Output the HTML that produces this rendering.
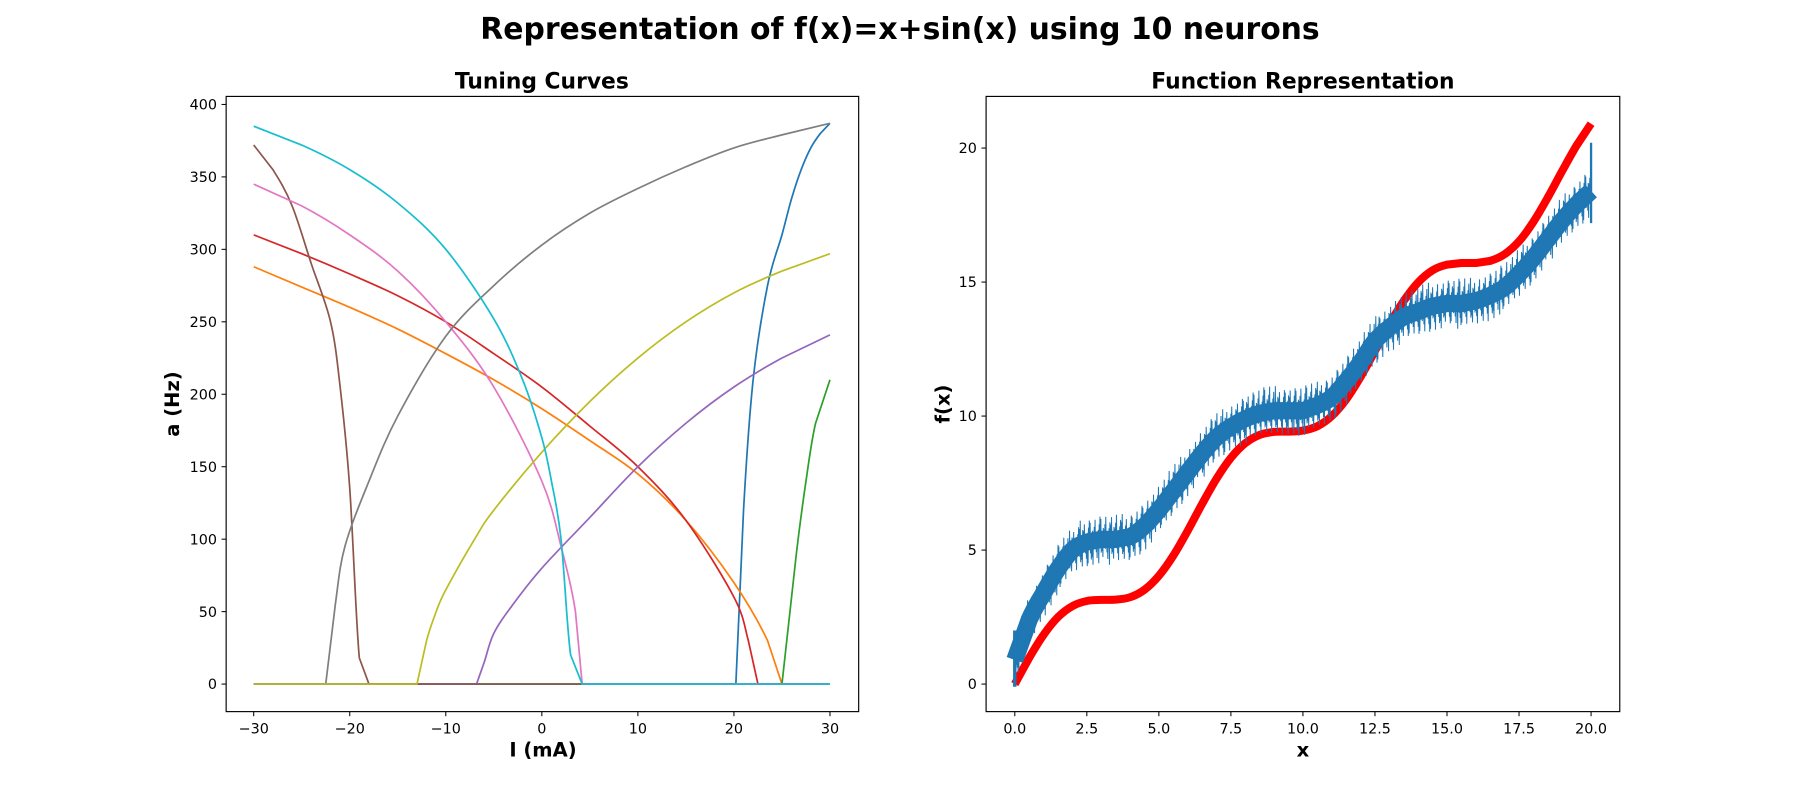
<!DOCTYPE html>
<html><head><meta charset="utf-8">
<style>
html,body{margin:0;padding:0;background:#fff;}
svg{display:block;font-family:"DejaVu Sans","Liberation Sans",sans-serif;}
</style></head>
<body>
<svg id="fig" width="1800" height="800" viewBox="0 0 1568 697" preserveAspectRatio="none" xmlns="http://www.w3.org/2000/svg">
<rect width="1568" height="697" fill="#fff"/>
<text x="784" y="34" text-anchor="middle" font-size="26" font-weight="bold">Representation of f(x)=x+sin(x) using 10 neurons</text>
<text x="472" y="77" text-anchor="middle" font-size="19" font-weight="bold">Tuning Curves</text>
<text x="1135" y="77" text-anchor="middle" font-size="19" font-weight="bold">Function Representation</text>
<text x="473" y="659" text-anchor="middle" font-size="17" font-weight="bold">I (mA)</text>
<text x="1135" y="659" text-anchor="middle" font-size="17" font-weight="bold">x</text>
<text transform="translate(156,352) rotate(-90)" text-anchor="middle" font-size="17" font-weight="bold">a (Hz)</text>
<text transform="translate(827,352) rotate(-90)" text-anchor="middle" font-size="17" font-weight="bold">f(x)</text>
<g id="left"></g>
<g id="right"></g>
</svg>
<script>
// ---- Tuning curve data ----
const curveNames = ["blue","orange","green","red","purple","brown","pink","gray","olive","cyan"];
const curveColors = ["#1f77b4","#ff7f0e","#2ca02c","#d62728","#9467bd","#8c564b","#e377c2","#7f7f7f","#bcbd22","#17becf"];
const blueI = [-30,20.2,21,22,23.5,25,26,27,28,29,30];
const blueA = [0,0,120,210,275,310,335,355,370,380,387];
const orangeI = [-30,-25,-20,-15,-10,-5,0,5,10,15,20,23.5,25,30];
const orangeA = [288,274,260,245,228,210,190,168,145,113,70,30,0,0];
const greenI = [-30,25,26.5,27.5,28.5,30];
const greenA = [0,0,90,140,180,210];
const redI = [-30,-25,-20,-15,-10,-5,0,5,10,15,20,21.5,22.5,30];
const redA = [310,297,283,268,250,228,205,178,150,113,60,30,0,0];
const purpleI = [-30,-6.8,-6,-5,-3,0,5,10,15,20,25,30];
const purpleA = [0,0,15,35,55,80,115,150,180,205,225,241];
const brownI = [-30,-28,-26,-24,-22,-21,-20,-19,-18,30];
const brownA = [372,355,330,290,250,205,135,18,0,0];
const pinkI = [-30,-25,-20,-15,-10,-5,0,2,3.5,4.2,30];
const pinkA = [345,330,310,285,250,205,140,95,50,0,0];
const grayI = [-30,-22.5,-21.5,-20.5,-18,-15,-10,-5,0,5,10,15,20,25,30];
const grayA = [0,0,55,95,140,185,240,275,303,325,342,357,370,379,387];
const oliveI = [-30,-13,-12,-11,-10,-7,-5,0,5,10,15,20,25,30];
const oliveA = [0,0,30,50,65,100,120,160,195,225,250,270,285,297];
const cyanI = [-30,-25,-20,-15,-10,-5,-2,0,1,2,3,4.2,30];
const cyanA = [385,372,355,332,300,252,210,170,140,100,20,0,0];
const leftXTicks = [-30,-20,-10,0,10,20,30];
const leftYTicks = [0,50,100,150,200,250,300,350,400];

// ---- Function representation data ----
const fxX = [0,0.5,1,1.5,2,2.5,3,3.5,4,4.5,5,5.5,6,6.5,7,7.5,8,8.5,9,9.5,10,10.5,11,11.5,12,12.5,13,13.5,14,14.5,15,15.5,16,16.5,17,17.5,18,18.5,19,19.5,20];
const fxTrue = [0,0.98,1.84,2.50,2.91,3.10,3.14,3.15,3.24,3.52,4.04,4.79,5.72,6.72,7.66,8.44,8.99,9.30,9.41,9.42,9.46,9.62,10.00,10.62,11.46,12.43,13.42,14.30,14.99,15.44,15.65,15.71,15.71,15.79,16.04,16.52,17.25,18.16,19.15,20.10,20.91];
const fxDecoded = [0.9,2.4,3.4,4.3,5.0,5.3,5.4,5.4,5.5,5.9,6.5,7.2,7.9,8.6,9.2,9.6,9.9,10.1,10.2,10.2,10.2,10.4,10.7,11.3,12.0,12.8,13.3,13.7,13.9,14.1,14.2,14.2,14.3,14.5,14.8,15.3,15.9,16.6,17.3,17.9,18.4];
const rightXTicks = [0,2.5,5,7.5,10,12.5,15,17.5,20];
const rightYTicks = [0,5,10,15,20];

const NS = "http://www.w3.org/2000/svg";
function mk(tag, attrs, parent){const e=document.createElementNS(NS,tag);for(const k in attrs)e.setAttribute(k,attrs[k]);parent.appendChild(e);return e;}

const L = {x0:197,x1:748,y0:84,y1:620};
const R = {x0:859,x1:1411,y0:84,y1:620};
const lx = v => 221 + (v+30)*(723-221)/60;
const ly = v => 596 - v*(596-91)/400;
const rx = v => 884 + v*(1386-884)/20;
const ry = v => 596 - v*(596-129)/20;

function smoothPath(P){
  let d="M"+P[0][0].toFixed(2)+","+P[0][1].toFixed(2);
  for(let i=0;i<P.length-1;i++){
    const p0=P[Math.max(0,i-1)],p1=P[i],p2=P[i+1],p3=P[Math.min(P.length-1,i+2)];
    const flat = Math.abs(p1[1]-p2[1])<0.01 || Math.abs(p0[1]-p1[1])<0.01 || Math.abs(p2[1]-p3[1])<0.01;
    if(flat){ d+=" L"+p2[0].toFixed(2)+","+p2[1].toFixed(2); continue; }
    const c1=[p1[0]+(p2[0]-p0[0])/6,p1[1]+(p2[1]-p0[1])/6];
    const c2=[p2[0]-(p3[0]-p1[0])/6,p2[1]-(p3[1]-p1[1])/6];
    d+=" C"+c1[0].toFixed(2)+","+c1[1].toFixed(2)+" "+c2[0].toFixed(2)+","+c2[1].toFixed(2)+" "+p2[0].toFixed(2)+","+p2[1].toFixed(2);
  }
  return d;
}

function axes(g, A, xt, yt, fx, fy, fmtX, fmtY, prefix){
  for(const t of xt){
    const x=fx(t);
    const tk=mk("line",{x1:x,x2:x,y1:A.y1,y2:A.y1+4,stroke:"#000","stroke-width":0.9},g);
    
    
    const tl=mk("text",{x:x,y:A.y1+19,"text-anchor":"middle","font-size":12.5},g);
    tl.textContent=fmtX(t);
    
    
  }
  for(const t of yt){
    const y=fy(t);
    const tk=mk("line",{x1:A.x0-4,x2:A.x0,y1:y,y2:y,stroke:"#000","stroke-width":0.9},g);
    
    
    const tl=mk("text",{x:A.x0-8,y:y+4.5,"text-anchor":"end","font-size":12.5},g);
    tl.textContent=fmtY(t);
    
    
  }
}
function frame(g,A,prefix){
  const r=mk("rect",{x:A.x0,y:A.y0,width:A.x1-A.x0,height:A.y1-A.y0,fill:"none",stroke:"#000","stroke-width":1},g);
  
  
}

// left plot
const gl=document.getElementById("left");
const allI=[blueI,orangeI,greenI,redI,purpleI,brownI,pinkI,grayI,oliveI,cyanI];
const allA=[blueA,orangeA,greenA,redA,purpleA,brownA,pinkA,grayA,oliveA,cyanA];
for(let c=0;c<10;c++){
  const P=allI[c].map((v,i)=>[lx(v),ly(allA[c][i])]);
  const pl=mk("path",{d:smoothPath(P),fill:"none",stroke:curveColors[c],"stroke-width":1.5,"stroke-linejoin":"round"},gl);
  
  
}
frame(gl,L,"left");
axes(gl,L,leftXTicks,leftYTicks,lx,ly,t=>(t<0?"\u2212"+(-t):""+t),t=>""+t,"left");

// right plot
const gr=document.getElementById("right");
const redP=fxX.map((v,i)=>[rx(v),ry(fxTrue[i])]);
const rl=mk("path",{d:smoothPath(redP),fill:"none",stroke:"#ff0000","stroke-width":7,"stroke-linejoin":"round"},gr);



const bandP=fxX.map((v,i)=>[rx(v),ry(fxDecoded[i])]);
const bl=mk("path",{d:smoothPath(bandP),fill:"none",stroke:"#1f77b4","stroke-width":15,"stroke-linejoin":"round","stroke-linecap":"butt"},gr);


// jagged rendering texture around the band (deterministic hash offsets, purely visual)
const zz=[];
const steps=1400;
for(let k=0;k<=steps;k++){
  const xv=20*k/steps;
  let j=Math.min(fxX.length-2,Math.floor(xv/0.5));
  const f=(xv-fxX[j])/(fxX[j+1]-fxX[j]);
  const yv=fxDecoded[j]+(fxDecoded[j+1]-fxDecoded[j])*f;
  const h=((k*2654435761)>>>0)%1000/1000;
  const off=(k%2?1:-1)*(0.2+0.75*h*h);
  zz.push(rx(xv).toFixed(2)+","+ry(yv+off).toFixed(2));
}
const zl=mk("polyline",{points:zz.join(" "),fill:"none",stroke:"#1f77b4","stroke-width":0.9},gr);


const sp=mk("line",{x1:rx(0),x2:rx(0),y1:ry(-0.1),y2:ry(2),stroke:"#1f77b4","stroke-width":3},gr);


const ep=mk("line",{x1:rx(20),x2:rx(20),y1:ry(17.2),y2:ry(20.2),stroke:"#1f77b4","stroke-width":2},gr);



frame(gr,R,"right");
axes(gr,R,rightXTicks,rightYTicks,rx,ry,t=>t.toFixed(1),t=>""+t,"right");
</script>
</body></html>
